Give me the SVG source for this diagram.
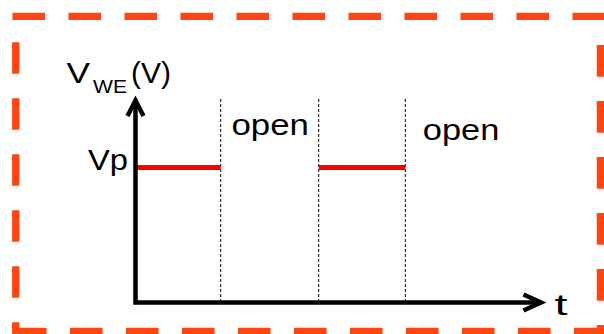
<svg xmlns="http://www.w3.org/2000/svg" width="604" height="334" viewBox="0 0 604 334">
  <style>
    .frame { fill: none; stroke: #FF4511; stroke-width: 7.3; stroke-linecap: butt; }
    .axis { fill: none; stroke: #000; stroke-width: 4.5; stroke-linejoin: miter; stroke-linecap: butt; }
    .guide { fill: none; stroke: #000; stroke-width: 1; stroke-dasharray: 3 2; }
    .pulse { fill: none; stroke: #FF0000; stroke-width: 5; }
    .lbl { font-family: "Liberation Sans", Arial, sans-serif; font-size: 30px; fill: #000; }
    .sub { font-family: "Liberation Sans", Arial, sans-serif; font-size: 17.5px; fill: #000; }
  </style>

  <!-- dashed outer frame -->
  <g id="frame">
    <line class="frame" x1="12.5" y1="16.3" x2="604" y2="16.3" stroke-dasharray="32.5 23.5"/>
    <line class="frame" x1="15.7" y1="42.3" x2="15.7" y2="334" stroke-dasharray="31.5 24.5"/>
    <line class="frame" x1="14" y1="331.3" x2="604" y2="331.3" stroke-dasharray="32.5 23.5"/>
    <line class="frame" x1="600.4" y1="45" x2="600.4" y2="334" stroke-dasharray="31.7 24.3"/>
  </g>

  <!-- time markers -->
  <g id="guides">
    <line class="guide" x1="220.7" y1="99" x2="220.7" y2="302"/>
    <line class="guide" x1="318.7" y1="99" x2="318.7" y2="302"/>
    <line class="guide" x1="405.3" y1="99" x2="405.3" y2="302"/>
  </g>

  <!-- applied potential pulses -->
  <g id="pulses">
    <line class="pulse" x1="134" y1="167.5" x2="220.7" y2="167.5"/>
    <line class="pulse" x1="318.7" y1="167.5" x2="405.3" y2="167.5"/>
  </g>

  <!-- axes -->
  <g id="connectors">
    <path class="axis" d="M135.5,101 L135.5,302.5 L540,302.5"/>
    <path class="axis" d="M127.5,116 L135.5,100.5 L143.5,116"/>
    <path class="axis" d="M523.5,294.5 L541,302.5 L523.5,310.5"/>
  </g>

  <!-- labels -->
  <g id="y-label">
    <text class="lbl" x="66.5" y="83.3" textLength="23.5" lengthAdjust="spacingAndGlyphs">V</text>
    <text class="sub" x="93" y="93.3" textLength="34" lengthAdjust="spacingAndGlyphs">WE</text>
    <text class="lbl" x="131" y="83.3" textLength="40" lengthAdjust="spacingAndGlyphs">(V)</text>
  </g>
  <g id="vp-label">
    <text class="lbl" x="88" y="170" textLength="40" lengthAdjust="spacingAndGlyphs">Vp</text>
  </g>
  <g id="open-1">
    <text class="lbl" x="231.5" y="135" textLength="77.5" lengthAdjust="spacingAndGlyphs">open</text>
  </g>
  <g id="open-2">
    <text class="lbl" x="422.8" y="140" textLength="76.5" lengthAdjust="spacingAndGlyphs">open</text>
  </g>
  <g id="t-label">
    <text class="lbl" x="554.5" y="315" textLength="13" lengthAdjust="spacingAndGlyphs">t</text>
  </g>
</svg>
